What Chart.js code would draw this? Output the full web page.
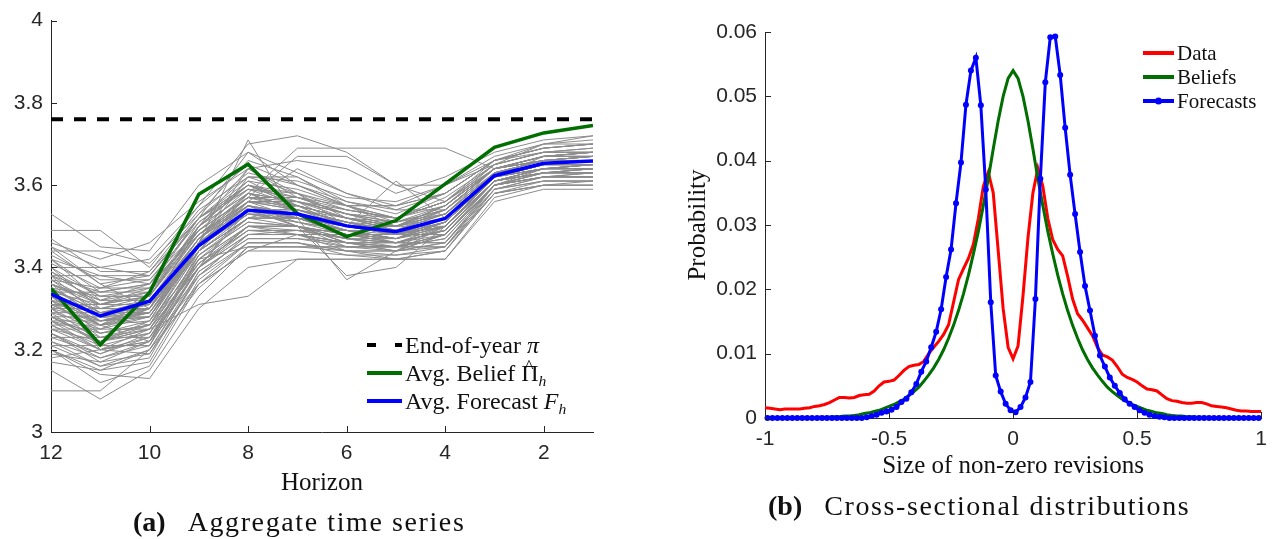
<!DOCTYPE html>
<html>
<head>
<meta charset="utf-8">
<script src="https://cdn.jsdelivr.net/npm/chart.js"></script>
<style>
    body { margin: 0; background: #fff; width: 1276px; height: 539px; position: relative; overflow: hidden; }
    canvas { position: absolute; top: 0; }
    #left-chart { left: 0; }
    #right-chart { left: 640px; }
    .serif { font-family: "Liberation Serif", serif; color: #111; position: absolute; white-space: nowrap; }
    .legend-row { display: flex; align-items: center; height: 28px; }
    .swatch { margin-right: 3px; }
    .hat { position: relative; display: inline-block; }
    .hat::after { content: "^"; position: absolute; left: 0.17em; top: -0.16em; font-size: 0.8em; }
    sub { font-size: 0.65em; vertical-align: -0.3em; line-height: 0; }
    .caption { font-size: 28px; line-height: 32px; letter-spacing: 1.6px; }
    .caption b { letter-spacing: 0; margin-right: 22px; }
</style>
</head>
<body>
<canvas id="left-chart" width="620" height="539"></canvas>
<canvas id="right-chart" width="636" height="539"></canvas>

<div class="serif" id="left-legend" style="left:367px; top:331px; font-size:24px;">
    <div class="legend-row">
        <svg class="swatch" width="35" height="6"><line x1="0" y1="3" x2="35" y2="3" stroke="#000" stroke-width="4" stroke-dasharray="9 19"/></svg>
        <span>End-of-year <i>π</i></span>
    </div>
    <div class="legend-row">
        <svg class="swatch" width="35" height="6"><line x1="0" y1="3" x2="35" y2="3" stroke="rgb(0,110,0)" stroke-width="4"/></svg>
        <span>Avg. Belief <span class="hat">Π</span><sub><i>h</i></sub></span>
    </div>
    <div class="legend-row">
        <svg class="swatch" width="35" height="6"><line x1="0" y1="3" x2="35" y2="3" stroke="#0000ff" stroke-width="4"/></svg>
        <span>Avg. Forecast <i>F</i><sub><i>h</i></sub></span>
    </div>
</div>

<div class="serif" id="right-legend" style="left:1143px; top:41px; font-size:21px;">
    <div class="legend-row" style="height:24px;">
        <svg class="swatch" width="31" height="8"><line x1="0" y1="4" x2="31" y2="4" stroke="#ff0000" stroke-width="4"/></svg>
        <span>Data</span>
    </div>
    <div class="legend-row" style="height:24px;">
        <svg class="swatch" width="31" height="8"><line x1="0" y1="4" x2="31" y2="4" stroke="rgb(0,110,0)" stroke-width="4"/></svg>
        <span>Beliefs</span>
    </div>
    <div class="legend-row" style="height:24px;">
        <svg class="swatch" width="31" height="8"><line x1="0" y1="4" x2="31" y2="4" stroke="#0000ff" stroke-width="4"/><circle cx="15.5" cy="4" r="3.5" fill="#0000ff"/></svg>
        <span>Forecasts</span>
    </div>
</div>

<div class="serif caption" style="left:133px; top:506px;"><b>(a)</b>Aggregate time series</div>
<div class="serif caption" style="left:768px; top:490px;"><b>(b)</b>Cross-sectional distributions</div>

<script>
// panel (a): inflation expectations by horizon (months before year end)
const horizons = [12, 11, 10, 9, 8, 7, 6, 5, 4, 3, 2, 1];
const horizonTicks = [12, 10, 8, 6, 4, 2];
const endOfYear = 3.76;
const avgBelief = [3.349, 3.212, 3.339, 3.578, 3.651, 3.531, 3.475, 3.514, 3.603, 3.692, 3.727, 3.745];
const avgForecast = [3.335, 3.282, 3.318, 3.453, 3.539, 3.530, 3.501, 3.487, 3.519, 3.623, 3.653, 3.659];

// individual forecaster paths, same horizon order as above
const forecasterPaths = [
    [3.33, 3.27, 3.30, 3.45, 3.54, 3.53, 3.50, 3.48, 3.52, 3.62, 3.65, 3.66],
    [3.40, 3.30, 3.30, 3.50, 3.60, 3.55, 3.50, 3.50, 3.55, 3.65, 3.68, 3.68],
    [3.25, 3.25, 3.25, 3.40, 3.50, 3.50, 3.45, 3.45, 3.45, 3.60, 3.62, 3.62],
    [3.49, 3.49, 3.40, 3.55, 3.65, 3.60, 3.55, 3.55, 3.60, 3.65, 3.70, 3.70],
    [3.10, 3.10, 3.20, 3.35, 3.45, 3.45, 3.45, 3.45, 3.45, 3.58, 3.60, 3.60],
    [3.35, 3.20, 3.25, 3.40, 3.55, 3.50, 3.48, 3.48, 3.50, 3.62, 3.65, 3.65],
    [3.30, 3.35, 3.35, 3.50, 3.60, 3.58, 3.52, 3.50, 3.55, 3.64, 3.66, 3.67],
    [3.20, 3.15, 3.20, 3.38, 3.48, 3.48, 3.46, 3.44, 3.48, 3.60, 3.63, 3.63],
    [3.45, 3.40, 3.42, 3.55, 3.70, 3.72, 3.68, 3.60, 3.60, 3.66, 3.70, 3.72],
    [3.28, 3.22, 3.24, 3.42, 3.52, 3.55, 3.50, 3.48, 3.50, 3.62, 3.64, 3.64],
    [3.38, 3.38, 3.36, 3.48, 3.56, 3.52, 3.48, 3.47, 3.52, 3.63, 3.66, 3.66],
    [3.22, 3.18, 3.22, 3.40, 3.50, 3.50, 3.46, 3.46, 3.46, 3.60, 3.62, 3.62],
    [3.53, 3.45, 3.44, 3.60, 3.68, 3.60, 3.55, 3.55, 3.58, 3.66, 3.69, 3.70],
    [3.15, 3.08, 3.15, 3.33, 3.45, 3.45, 3.44, 3.42, 3.44, 3.58, 3.60, 3.60],
    [3.36, 3.30, 3.32, 3.46, 3.56, 3.56, 3.50, 3.50, 3.54, 3.64, 3.66, 3.66],
    [3.28, 3.28, 3.28, 3.44, 3.52, 3.52, 3.50, 3.48, 3.48, 3.60, 3.64, 3.64],
    [3.42, 3.38, 3.38, 3.52, 3.62, 3.58, 3.54, 3.52, 3.56, 3.66, 3.68, 3.69],
    [3.26, 3.20, 3.19, 3.38, 3.46, 3.46, 3.44, 3.44, 3.45, 3.59, 3.61, 3.61],
    [3.34, 3.34, 3.34, 3.48, 3.58, 3.54, 3.52, 3.50, 3.52, 3.63, 3.65, 3.65],
    [3.18, 3.20, 3.22, 3.36, 3.44, 3.48, 3.48, 3.46, 3.46, 3.60, 3.63, 3.63],
    [3.44, 3.36, 3.30, 3.46, 3.62, 3.62, 3.55, 3.50, 3.50, 3.62, 3.67, 3.68],
    [3.24, 3.17, 3.22, 3.42, 3.50, 3.48, 3.44, 3.44, 3.48, 3.61, 3.63, 3.64],
    [3.38, 3.28, 3.26, 3.40, 3.54, 3.50, 3.38, 3.40, 3.50, 3.62, 3.64, 3.65],
    [3.32, 3.26, 3.30, 3.50, 3.58, 3.56, 3.54, 3.52, 3.56, 3.64, 3.67, 3.68],
    [3.29, 3.29, 3.29, 3.46, 3.54, 3.50, 3.46, 3.45, 3.50, 3.61, 3.64, 3.64],
    [3.37, 3.31, 3.35, 3.52, 3.60, 3.55, 3.52, 3.49, 3.54, 3.63, 3.66, 3.67],
    [3.20, 3.14, 3.13, 3.30, 3.40, 3.42, 3.42, 3.42, 3.42, 3.56, 3.59, 3.59],
    [3.46, 3.42, 3.46, 3.56, 3.64, 3.66, 3.64, 3.58, 3.62, 3.68, 3.71, 3.72],
    [3.27, 3.24, 3.26, 3.44, 3.52, 3.52, 3.50, 3.48, 3.50, 3.62, 3.64, 3.65],
    [3.35, 3.29, 3.31, 3.47, 3.55, 3.53, 3.49, 3.47, 3.51, 3.62, 3.65, 3.66],
    [3.31, 3.31, 3.31, 3.45, 3.53, 3.51, 3.48, 3.47, 3.51, 3.62, 3.65, 3.65],
    [3.40, 3.33, 3.33, 3.50, 3.64, 3.57, 3.53, 3.51, 3.53, 3.64, 3.67, 3.67],
    [3.23, 3.19, 3.23, 3.40, 3.48, 3.49, 3.47, 3.45, 3.47, 3.60, 3.62, 3.63],
    [3.28, 3.22, 3.25, 3.31, 3.33, 3.42, 3.42, 3.42, 3.42, 3.57, 3.60, 3.60],
    [3.36, 3.27, 3.28, 3.44, 3.58, 3.54, 3.51, 3.50, 3.53, 3.63, 3.66, 3.66],
    [3.42, 3.34, 3.36, 3.48, 3.56, 3.64, 3.58, 3.54, 3.54, 3.64, 3.66, 3.67],
    [3.28, 3.23, 3.25, 3.43, 3.51, 3.50, 3.47, 3.46, 3.49, 3.61, 3.64, 3.64],
    [3.33, 3.26, 3.28, 3.46, 3.55, 3.52, 3.37, 3.44, 3.50, 3.62, 3.65, 3.65],
    [3.31, 3.29, 3.32, 3.47, 3.56, 3.54, 3.51, 3.49, 3.53, 3.63, 3.65, 3.66],
    [3.39, 3.33, 3.35, 3.49, 3.57, 3.56, 3.53, 3.50, 3.54, 3.64, 3.67, 3.68],
    [3.26, 3.21, 3.24, 3.41, 3.49, 3.49, 3.47, 3.46, 3.48, 3.61, 3.63, 3.63],
    [3.35, 3.29, 3.31, 3.47, 3.58, 3.69, 3.69, 3.69, 3.69, 3.64, 3.67, 3.68],
    [3.30, 3.24, 3.27, 3.45, 3.54, 3.52, 3.49, 3.48, 3.51, 3.62, 3.65, 3.65],
    [3.34, 3.31, 3.33, 3.49, 3.57, 3.67, 3.67, 3.60, 3.56, 3.64, 3.67, 3.67],
    [3.29, 3.26, 3.29, 3.46, 3.55, 3.53, 3.50, 3.61, 3.52, 3.63, 3.65, 3.66],
    [3.37, 3.29, 3.30, 3.46, 3.71, 3.52, 3.49, 3.47, 3.51, 3.62, 3.65, 3.65],
    [3.21, 3.16, 3.20, 3.39, 3.47, 3.47, 3.45, 3.44, 3.46, 3.59, 3.62, 3.62],
    [3.32, 3.27, 3.29, 3.46, 3.54, 3.52, 3.49, 3.47, 3.50, 3.62, 3.65, 3.65],
    [3.41, 3.35, 3.39, 3.52, 3.61, 3.59, 3.55, 3.52, 3.57, 3.65, 3.68, 3.69],
    [3.27, 3.22, 3.25, 3.43, 3.51, 3.50, 3.48, 3.46, 3.49, 3.61, 3.64, 3.64],
    [3.33, 3.28, 3.30, 3.47, 3.55, 3.53, 3.50, 3.48, 3.52, 3.62, 3.65, 3.66],
    [3.24, 3.19, 3.24, 3.41, 3.49, 3.48, 3.46, 3.45, 3.48, 3.60, 3.63, 3.63],
    [3.36, 3.31, 3.33, 3.49, 3.57, 3.55, 3.52, 3.49, 3.53, 3.63, 3.66, 3.67],
    [3.31, 3.25, 3.28, 3.45, 3.53, 3.51, 3.49, 3.47, 3.51, 3.62, 3.65, 3.65],
    [3.38, 3.32, 3.34, 3.50, 3.58, 3.56, 3.53, 3.51, 3.55, 3.64, 3.67, 3.67],
    [3.25, 3.20, 3.23, 3.42, 3.50, 3.49, 3.47, 3.46, 3.49, 3.61, 3.63, 3.64],
    [3.34, 3.28, 3.31, 3.47, 3.56, 3.54, 3.51, 3.49, 3.52, 3.63, 3.65, 3.66],
    [3.30, 3.30, 3.30, 3.46, 3.54, 3.54, 3.51, 3.48, 3.51, 3.62, 3.65, 3.65],
    [3.17, 3.15, 3.17, 3.37, 3.46, 3.46, 3.44, 3.43, 3.45, 3.58, 3.61, 3.61],
    [3.43, 3.37, 3.37, 3.51, 3.59, 3.57, 3.54, 3.52, 3.56, 3.65, 3.68, 3.68],
    [3.21, 3.21, 3.21, 3.40, 3.49, 3.49, 3.49, 3.47, 3.49, 3.61, 3.63, 3.63],
    [3.44, 3.44, 3.41, 3.53, 3.63, 3.60, 3.56, 3.53, 3.58, 3.66, 3.69, 3.70],
    [3.26, 3.26, 3.22, 3.44, 3.56, 3.56, 3.52, 3.50, 3.53, 3.62, 3.65, 3.65],
    [3.32, 3.23, 3.23, 3.38, 3.48, 3.48, 3.45, 3.45, 3.48, 3.60, 3.62, 3.62],
    [3.40, 3.40, 3.38, 3.53, 3.66, 3.62, 3.56, 3.54, 3.58, 3.66, 3.69, 3.70],
    [3.19, 3.17, 3.19, 3.36, 3.46, 3.46, 3.43, 3.43, 3.44, 3.59, 3.61, 3.61],
    [3.35, 3.33, 3.33, 3.51, 3.60, 3.57, 3.55, 3.52, 3.55, 3.64, 3.67, 3.68],
    [3.29, 3.21, 3.21, 3.43, 3.52, 3.50, 3.47, 3.47, 3.50, 3.61, 3.64, 3.64],
    [3.37, 3.35, 3.37, 3.49, 3.59, 3.58, 3.55, 3.51, 3.54, 3.64, 3.67, 3.67],
    [3.23, 3.23, 3.26, 3.45, 3.53, 3.52, 3.49, 3.46, 3.50, 3.62, 3.64, 3.65],
    [3.47, 3.39, 3.39, 3.54, 3.62, 3.61, 3.57, 3.56, 3.60, 3.67, 3.70, 3.71],
    [3.30, 3.22, 3.27, 3.41, 3.50, 3.50, 3.46, 3.46, 3.49, 3.61, 3.63, 3.64],
    [3.34, 3.26, 3.32, 3.48, 3.55, 3.51, 3.49, 3.49, 3.52, 3.62, 3.65, 3.66],
    [3.27, 3.27, 3.29, 3.44, 3.53, 3.53, 3.51, 3.48, 3.51, 3.62, 3.64, 3.65],
    [3.39, 3.31, 3.34, 3.50, 3.61, 3.55, 3.52, 3.50, 3.55, 3.64, 3.66, 3.67],
    [3.22, 3.16, 3.18, 3.39, 3.47, 3.47, 3.46, 3.44, 3.46, 3.59, 3.62, 3.62],
    [3.36, 3.32, 3.32, 3.47, 3.57, 3.57, 3.53, 3.50, 3.53, 3.63, 3.66, 3.66],
    [3.31, 3.26, 3.27, 3.46, 3.64, 3.58, 3.50, 3.48, 3.52, 3.62, 3.65, 3.66],
    [3.25, 3.22, 3.26, 3.42, 3.45, 3.45, 3.45, 3.45, 3.48, 3.60, 3.63, 3.63],
    [3.42, 3.32, 3.36, 3.52, 3.60, 3.56, 3.53, 3.52, 3.56, 3.65, 3.68, 3.68],
    [3.28, 3.25, 3.30, 3.45, 3.55, 3.52, 3.48, 3.47, 3.50, 3.61, 3.64, 3.65],
    [3.33, 3.24, 3.26, 3.44, 3.52, 3.52, 3.50, 3.48, 3.51, 3.62, 3.65, 3.65],
    [3.20, 3.12, 3.16, 3.36, 3.44, 3.44, 3.43, 3.42, 3.44, 3.58, 3.60, 3.61],
    [3.38, 3.34, 3.36, 3.52, 3.59, 3.55, 3.52, 3.51, 3.54, 3.64, 3.66, 3.67],
    [3.30, 3.27, 3.28, 3.46, 3.56, 3.55, 3.52, 3.49, 3.52, 3.62, 3.65, 3.66],
    [3.45, 3.36, 3.38, 3.52, 3.68, 3.63, 3.58, 3.55, 3.58, 3.66, 3.69, 3.70],
    [3.24, 3.18, 3.21, 3.40, 3.48, 3.48, 3.46, 3.45, 3.47, 3.60, 3.62, 3.63],
    [3.35, 3.28, 3.29, 3.45, 3.54, 3.54, 3.51, 3.49, 3.52, 3.63, 3.65, 3.66],
    [3.32, 3.30, 3.33, 3.48, 3.57, 3.54, 3.50, 3.48, 3.52, 3.62, 3.65, 3.65],
    [3.27, 3.20, 3.22, 3.40, 3.50, 3.50, 3.48, 3.46, 3.49, 3.61, 3.63, 3.64]
];

// panel (b): distribution of non-zero revisions
const revisionTicks = [-1, -0.5, 0, 0.5, 1];
const binCenters = [
    -0.99, -0.97, -0.95, -0.93, -0.91, -0.89, -0.87, -0.85, -0.83, -0.81,
    -0.79, -0.77, -0.75, -0.73, -0.71, -0.69, -0.67, -0.65, -0.63, -0.61,
    -0.59, -0.57, -0.55, -0.53, -0.51, -0.49, -0.47, -0.45, -0.43, -0.41,
    -0.39, -0.37, -0.35, -0.33, -0.31, -0.29, -0.27, -0.25, -0.23, -0.21,
    -0.19, -0.17, -0.15, -0.13, -0.11, -0.09, -0.07, -0.05, -0.03, -0.01,
    0.01, 0.03, 0.05, 0.07, 0.09, 0.11, 0.13, 0.15, 0.17, 0.19,
    0.21, 0.23, 0.25, 0.27, 0.29, 0.31, 0.33, 0.35, 0.37, 0.39,
    0.41, 0.43, 0.45, 0.47, 0.49, 0.51, 0.53, 0.55, 0.57, 0.59,
    0.61, 0.63, 0.65, 0.67, 0.69, 0.71, 0.73, 0.75, 0.77, 0.79,
    0.81, 0.83, 0.85, 0.87, 0.89, 0.91, 0.93, 0.95, 0.97, 0.99
];
const forecastShares = [
    0, 0, 0, 0, 0, 0, 0, 0, 0, 0,
    0, 0, 0, 0, 0, 0, 0, 0, 0, 0,
    0.0001, 0.0003, 0.0005, 0.0008, 0.0010, 0.0013, 0.0017, 0.0025, 0.0030, 0.0040,
    0.0053, 0.0072, 0.0088, 0.0110, 0.0134, 0.0169, 0.0219, 0.0262, 0.0334, 0.0397,
    0.0487, 0.0540, 0.0560, 0.0486, 0.0355, 0.0180, 0.0066, 0.0041, 0.0022, 0.0012,
    0.0009, 0.0017, 0.0032, 0.0056, 0.0185, 0.0372, 0.0522, 0.0592, 0.0593, 0.0533,
    0.0451, 0.0378, 0.0317, 0.0258, 0.0205, 0.0167, 0.0128, 0.0097, 0.0080, 0.0063,
    0.0050, 0.0039, 0.0029, 0.0022, 0.0017, 0.0012, 0.0008, 0.0005, 0.0003, 0.0002,
    0.0001, 0, 0, 0, 0, 0, 0, 0, 0, 0,
    0, 0, 0, 0, 0, 0, 0, 0, 0, 0
];
const gridPoints = [
    -1.00, -0.98, -0.96, -0.94, -0.92, -0.90, -0.88, -0.86, -0.84, -0.82,
    -0.80, -0.78, -0.76, -0.74, -0.72, -0.70, -0.68, -0.66, -0.64, -0.62,
    -0.60, -0.58, -0.56, -0.54, -0.52, -0.50, -0.48, -0.46, -0.44, -0.42,
    -0.40, -0.38, -0.36, -0.34, -0.32, -0.30, -0.28, -0.26, -0.24, -0.22,
    -0.20, -0.18, -0.16, -0.14, -0.12, -0.10, -0.08, -0.06, -0.04, -0.02,
    0.00, 0.02, 0.04, 0.06, 0.08, 0.10, 0.12, 0.14, 0.16, 0.18,
    0.20, 0.22, 0.24, 0.26, 0.28, 0.30, 0.32, 0.34, 0.36, 0.38,
    0.40, 0.42, 0.44, 0.46, 0.48, 0.50, 0.52, 0.54, 0.56, 0.58,
    0.60, 0.62, 0.64, 0.66, 0.68, 0.70, 0.72, 0.74, 0.76, 0.78,
    0.80, 0.82, 0.84, 0.86, 0.88, 0.90, 0.92, 0.94, 0.96, 0.98,
    1.00
];
const dataShares = [
    0.0016, 0.0015, 0.0014, 0.0013, 0.0014, 0.0014, 0.0014, 0.0014, 0.0015, 0.0016,
    0.0018, 0.0019, 0.0021, 0.0024, 0.0028, 0.0032, 0.0032, 0.0031, 0.0032, 0.0035,
    0.0036, 0.0037, 0.0042, 0.0050, 0.0056, 0.0057, 0.0059, 0.0066, 0.0074, 0.0080,
    0.0082, 0.0083, 0.0088, 0.0100, 0.0110, 0.0119, 0.0130, 0.0145, 0.0180, 0.0215,
    0.0232, 0.0248, 0.0270, 0.0310, 0.0360, 0.0382, 0.0350, 0.0260, 0.0170, 0.0110,
    0.0092, 0.0112, 0.0190, 0.0280, 0.0350, 0.0388, 0.0360, 0.0310, 0.0277, 0.0262,
    0.0252, 0.0220, 0.0185, 0.0162, 0.0152, 0.0140, 0.0128, 0.0110, 0.0098, 0.0095,
    0.0090, 0.0080, 0.0068, 0.0063, 0.0060, 0.0056, 0.0050, 0.0045, 0.0044, 0.0042,
    0.0036, 0.0030, 0.0027, 0.0026, 0.0024, 0.0023, 0.0023, 0.0024, 0.0024, 0.0022,
    0.0019, 0.0018, 0.0017, 0.0016, 0.0014, 0.0012, 0.0011, 0.0011, 0.0010, 0.0010,
    0.0010
];
const beliefShares = [
    0, 0, 0, 0, 0, 0, 0, 0, 0, 0,
    0, 0.0001, 0.0001, 0.0001, 0.0002, 0.0002, 0.0003, 0.0003, 0.0004, 0.0005,
    0.0007, 0.0008, 0.0010, 0.0012, 0.0015, 0.0018, 0.0021, 0.0025, 0.0029, 0.0035,
    0.0041, 0.0048, 0.0057, 0.0067, 0.0078, 0.0091, 0.0106, 0.0124, 0.0144, 0.0167,
    0.0193, 0.0222, 0.0255, 0.0290, 0.0330, 0.0372, 0.0418, 0.0462, 0.0500, 0.0528,
    0.0540, 0.0528, 0.0500, 0.0462, 0.0418, 0.0372, 0.0330, 0.0290, 0.0255, 0.0222,
    0.0193, 0.0167, 0.0144, 0.0124, 0.0106, 0.0091, 0.0078, 0.0067, 0.0057, 0.0048,
    0.0041, 0.0035, 0.0029, 0.0025, 0.0021, 0.0018, 0.0015, 0.0012, 0.0010, 0.0008,
    0.0007, 0.0005, 0.0004, 0.0003, 0.0003, 0.0002, 0.0002, 0.0001, 0.0001, 0.0001,
    0, 0, 0, 0, 0, 0, 0, 0, 0, 0,
    0
];

const axisColor = '#262626';
const green = 'rgb(0,110,0)';
const serifFont = {family: '"Liberation Serif", serif', size: 25};

function toPoints(xs, ys) {
    return xs.map((x, i) => ({x: x, y: ys[i]}));
}

// "3.0" -> "3", "-1.0" -> "-1"
function plainNumber(value) {
    return String(Number(value.toFixed(2)));
}

// MATLAB style ticks pointing into the plot
const inwardTicks = {
    id: 'inwardTicks',
    afterDraw(chart) {
        const {ctx, chartArea} = chart;
        const xScale = chart.scales.x;
        const yScale = chart.scales.y;
        ctx.save();
        ctx.strokeStyle = axisColor;
        ctx.lineWidth = 1;
        ctx.beginPath();
        for (const tick of xScale.ticks) {
            const px = Math.round(xScale.getPixelForValue(tick.value)) + 0.5;
            ctx.moveTo(px, chartArea.bottom);
            ctx.lineTo(px, chartArea.bottom - 6);
        }
        for (const tick of yScale.ticks) {
            const py = Math.round(yScale.getPixelForValue(tick.value)) + 0.5;
            ctx.moveTo(chartArea.left, py);
            ctx.lineTo(chartArea.left + 6, py);
        }
        ctx.stroke();
        ctx.restore();
    }
};

function baseScale(extra) {
    return Object.assign({
        type: 'linear',
        grid: {display: false, drawTicks: false},
        border: {display: true, color: axisColor, width: 1}
    }, extra);
}

function tickStyle(extra) {
    return Object.assign({color: axisColor, font: {size: 21}, callback: plainNumber}, extra);
}

function drawLeftChart() {
    const datasets = [
        {
            data: toPoints([12, 1], [endOfYear, endOfYear]),
            borderColor: '#000',
            borderWidth: 4,
            borderDash: [12, 11]
        },
        {
            data: toPoints(horizons, avgForecast),
            borderColor: '#0000ff',
            borderWidth: 3.5
        },
        {
            data: toPoints(horizons, avgBelief),
            borderColor: green,
            borderWidth: 3.5
        }
    ];
    for (const path of forecasterPaths) {
        datasets.push({
            data: toPoints(horizons, path),
            borderColor: 'rgb(140,140,140)',
            borderWidth: 1
        });
    }

    new Chart(document.getElementById('left-chart'), {
        type: 'line',
        data: {datasets: datasets},
        options: {
            responsive: false,
            animation: false,
            devicePixelRatio: 1,
            elements: {point: {radius: 0}, line: {tension: 0}},
            layout: {padding: {top: 14, right: 27, bottom: 0, left: 0}},
            plugins: {legend: {display: false}, tooltip: {enabled: false}},
            scales: {
                x: baseScale({
                    min: 1,
                    max: 12,
                    reverse: true,
                    ticks: tickStyle({padding: 9}),
                    title: {display: true, text: 'Horizon', color: '#111', font: serifFont, padding: {top: 0, bottom: 41}},
                    afterBuildTicks: scale => { scale.ticks = horizonTicks.map(v => ({value: v})); },
                    afterFit: scale => { scale.height = 107; }
                }),
                y: baseScale({
                    min: 3,
                    max: 4,
                    ticks: tickStyle({padding: 8, stepSize: 0.2}),
                    afterFit: scale => { scale.width = 51; }
                })
            }
        },
        plugins: [inwardTicks]
    });
}

function drawRightChart() {
    new Chart(document.getElementById('right-chart'), {
        type: 'line',
        data: {
            datasets: [
                {
                    data: toPoints(binCenters, forecastShares),
                    borderColor: '#0000ff',
                    backgroundColor: '#0000ff',
                    borderWidth: 3,
                    pointRadius: 3,
                    pointBorderWidth: 0,
                    clip: false
                },
                {
                    data: toPoints(gridPoints, beliefShares),
                    borderColor: green,
                    borderWidth: 3,
                    clip: false
                },
                {
                    data: toPoints(gridPoints, dataShares),
                    borderColor: '#ff0000',
                    borderWidth: 3,
                    clip: false
                }
            ]
        },
        options: {
            responsive: false,
            animation: false,
            devicePixelRatio: 1,
            elements: {point: {radius: 0}, line: {tension: 0}},
            layout: {padding: {top: 32, right: 9, bottom: 0, left: 0}},
            plugins: {legend: {display: false}, tooltip: {enabled: false}},
            scales: {
                x: baseScale({
                    min: -1,
                    max: 1,
                    ticks: tickStyle({padding: 9}),
                    title: {display: true, text: 'Size of non-zero revisions', color: '#111', font: serifFont, padding: {top: 0, bottom: 58}},
                    afterBuildTicks: scale => { scale.ticks = revisionTicks.map(v => ({value: v})); },
                    afterFit: scale => { scale.height = 121; }
                }),
                y: baseScale({
                    min: 0,
                    max: 0.06,
                    ticks: tickStyle({padding: 8, stepSize: 0.01}),
                    title: {display: true, text: 'Probability', color: '#111', font: serifFont, padding: {top: 43, bottom: 0}},
                    afterFit: scale => { scale.width = 125; }
                })
            }
        },
        plugins: [inwardTicks]
    });
}

function init() {
    Chart.defaults.font.family = '"Liberation Sans", Arial, sans-serif';
    drawLeftChart();
    drawRightChart();
}

init();
</script>
</body>
</html>
